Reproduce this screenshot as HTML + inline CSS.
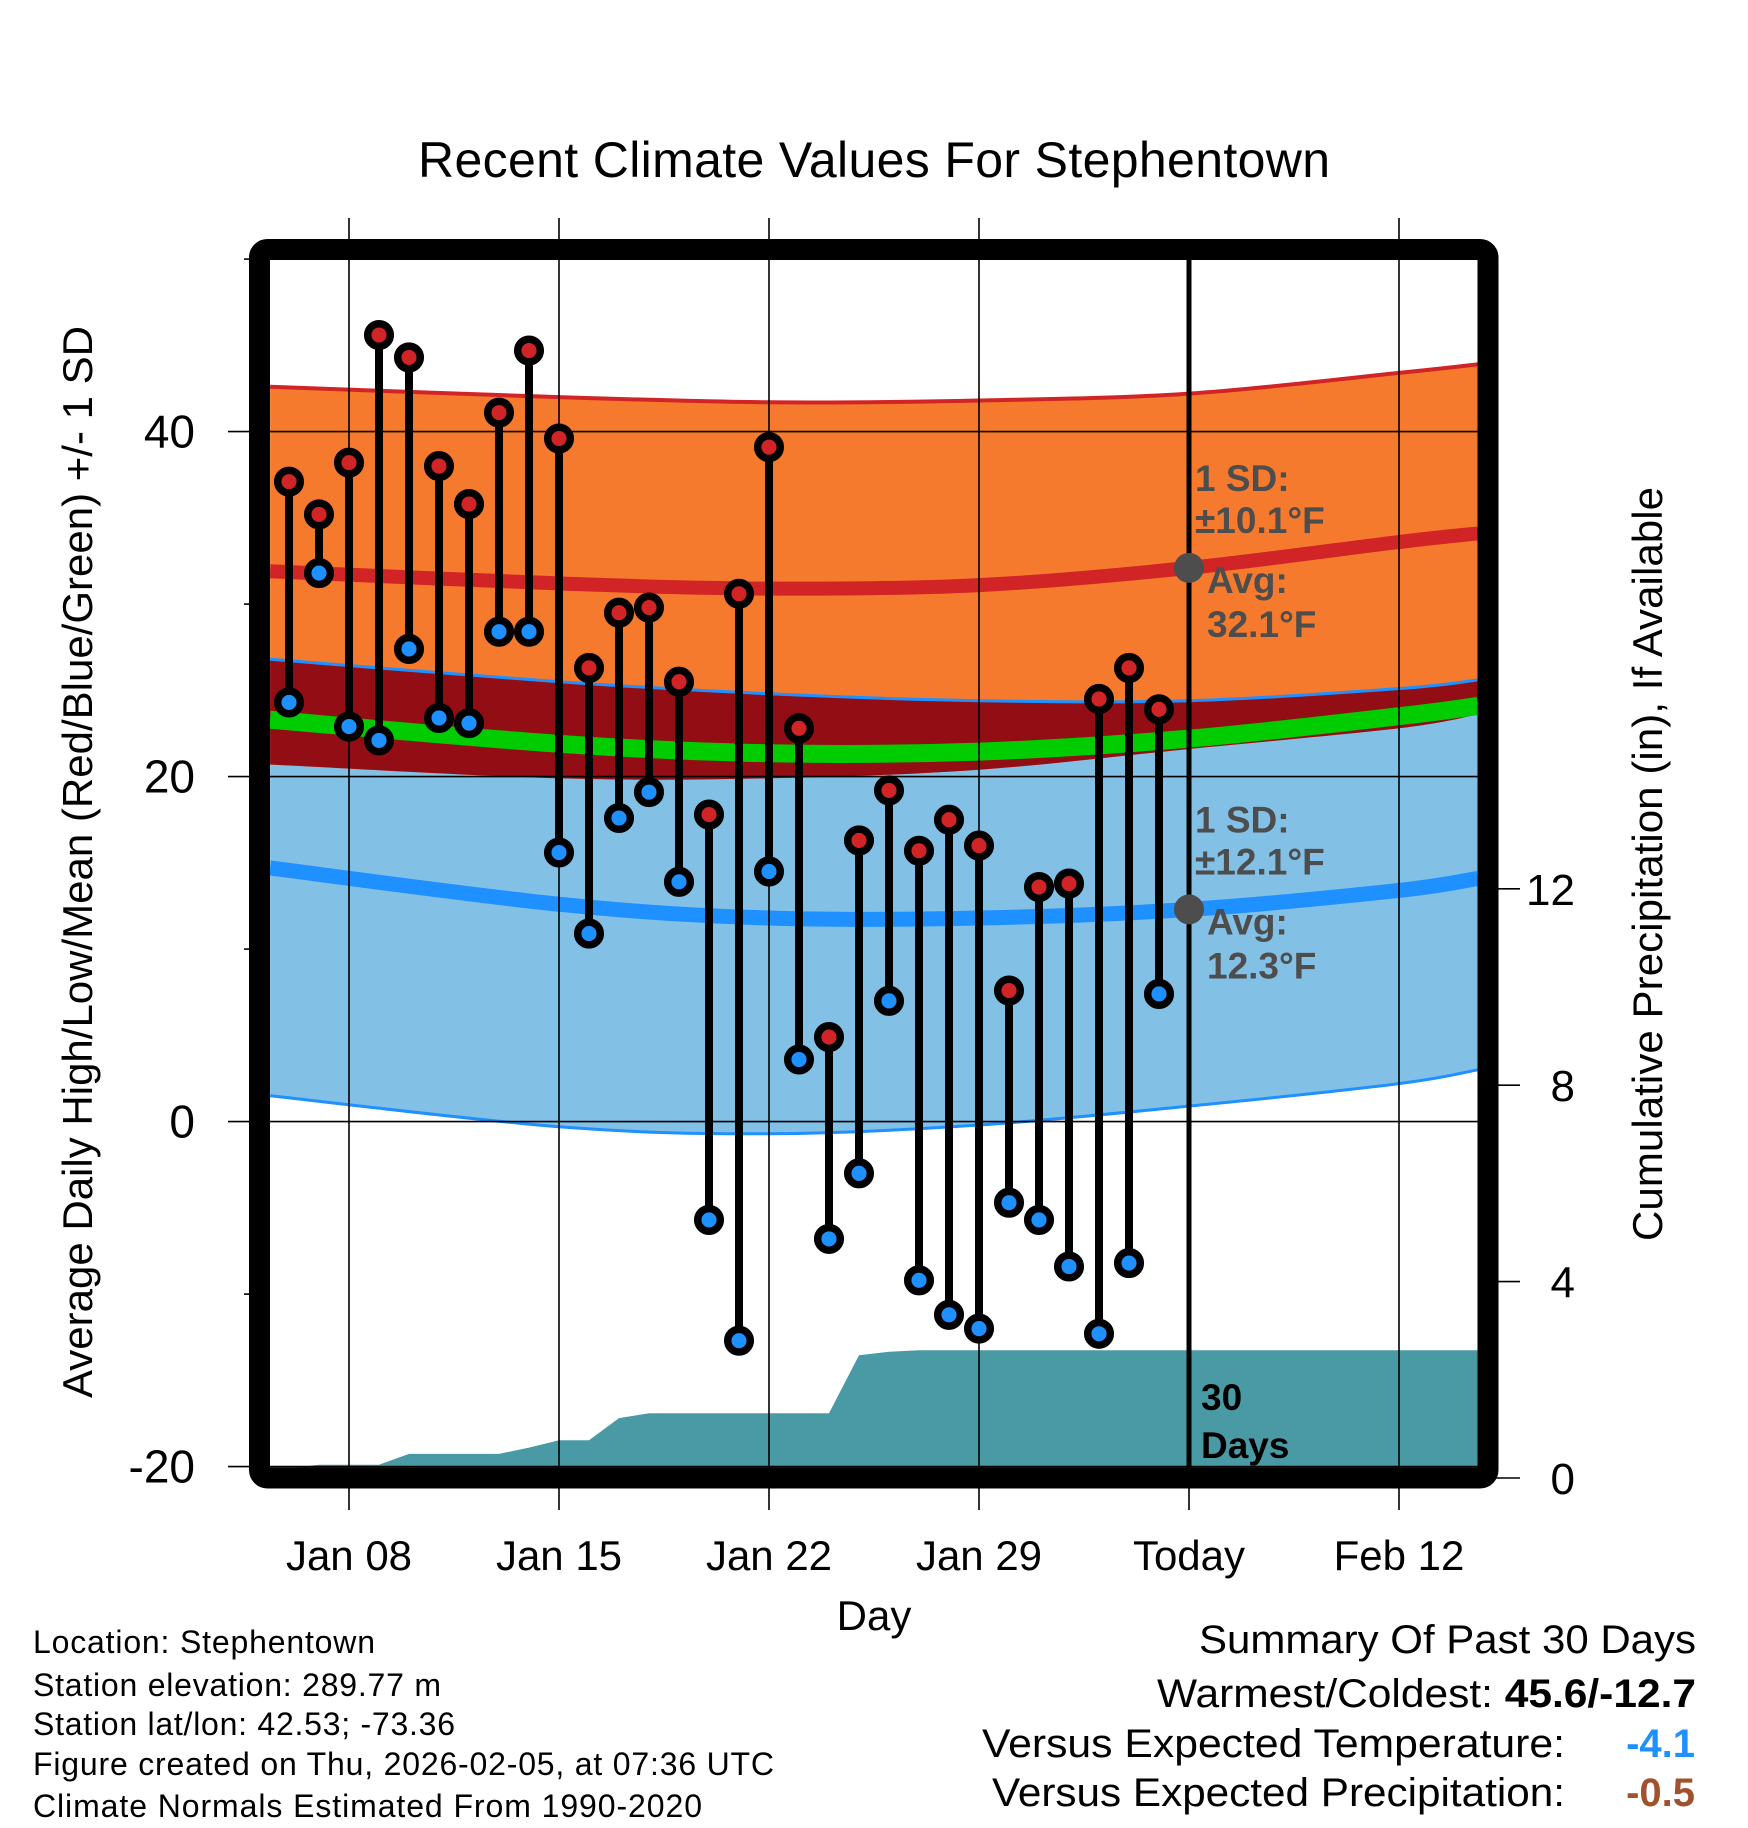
<!DOCTYPE html>
<html><head><meta charset="utf-8">
<style>
html,body{margin:0;padding:0;background:#fff;}
svg{display:block;font-family:"Liberation Sans",Arial,sans-serif;}
</style></head>
<body>
<svg id="chart" width="1748" height="1828" viewBox="0 0 1748 1828" xmlns="http://www.w3.org/2000/svg">
  <defs><clipPath id="plotclip"><rect x="270" y="260" width="1208" height="1208"/></clipPath></defs>
  <rect x="0" y="0" width="1748" height="1828" fill="#fff"/>
  <text x="874" y="177" text-anchor="middle" font-size="50" textLength="912">Recent Climate Values For Stephentown</text>
  <g id="plot" clip-path="url(#plotclip)"></g>
  <g id="axes"></g>
  <rect x="259.5" y="249.5" width="1228.5" height="1228.5" rx="8" fill="none" stroke="#000" stroke-width="21"/>
  <g id="overlay"></g>
  <text transform="translate(92,862) rotate(-90)" text-anchor="middle" font-size="42" textLength="1072">Average Daily High/Low/Mean (Red/Blue/Green) +/- 1 SD</text>
  <text transform="translate(1662,864) rotate(-90)" text-anchor="middle" font-size="42" textLength="754">Cumulative Precipitation (in), If Available</text>
  <text x="874" y="1630" text-anchor="middle" font-size="42">Day</text>
  <g font-size="32">
    <text x="33" y="1653" textLength="342">Location: Stephentown</text>
    <text x="33" y="1696" textLength="408">Station elevation: 289.77 m</text>
    <text x="33" y="1735" textLength="422">Station lat/lon: 42.53; -73.36</text>
    <text x="33" y="1775" textLength="741">Figure created on Thu, 2026-02-05, at 07:36 UTC</text>
    <text x="33" y="1817" textLength="669">Climate Normals Estimated From 1990-2020</text>
  </g>
  <g font-size="40">
    <text x="1199" y="1653" textLength="497" lengthAdjust="spacingAndGlyphs">Summary Of Past 30 Days</text>
    <text x="1157" y="1707" textLength="539" lengthAdjust="spacingAndGlyphs">Warmest/Coldest: <tspan font-weight="bold">45.6/-12.7</tspan></text>
    <text x="982" y="1757" textLength="583" lengthAdjust="spacingAndGlyphs">Versus Expected Temperature:</text>
    <text x="1695" y="1757" text-anchor="end" font-weight="bold" fill="#1e90ff">-4.1</text>
    <text x="992" y="1806" textLength="573" lengthAdjust="spacingAndGlyphs">Versus Expected Precipitation:</text>
    <text x="1695" y="1806" text-anchor="end" font-weight="bold" fill="#a0522d">-0.5</text>
  </g>
</svg>
<script>
// ---- data ----
const dayLabels = ["Jan 06","Jan 07","Jan 08","Jan 09","Jan 10","Jan 11","Jan 12","Jan 13","Jan 14","Jan 15","Jan 16","Jan 17","Jan 18","Jan 19","Jan 20","Jan 21","Jan 22","Jan 23","Jan 24","Jan 25","Jan 26","Jan 27","Jan 28","Jan 29","Jan 30","Jan 31","Feb 01","Feb 02","Feb 03","Feb 04"];
const highs = [37.1,35.2,38.2,45.6,44.3,38.0,35.8,41.1,44.7,39.6,26.3,29.5,29.8,25.5,17.8,30.6,39.1,22.8,4.9,16.3,19.2,15.7,17.5,16.0,7.6,13.6,13.8,24.5,26.3,23.9];
const lows = [24.3,31.8,22.9,22.1,27.4,23.4,23.1,28.4,28.4,15.6,10.9,17.6,19.1,13.9,-5.7,-12.7,14.5,3.6,-6.8,-3.0,7.0,-9.2,-11.2,-12.0,-4.7,-5.7,-8.4,-12.3,-8.2,7.4];
const precipCum = [0.2,0.27,0.27,0.27,0.49,0.49,0.49,0.49,0.62,0.77,0.77,1.22,1.32,1.32,1.32,1.32,1.32,1.32,1.32,2.5,2.57,2.6,2.6,2.6,2.6,2.6,2.6,2.6,2.6,2.6];
// normals sampled at day offsets (0 = Jan 06)
const normDays = [-0.63,9,16,23,30,37,39.63];
const highUpper = [42.6,42.0,41.7,41.8,42.2,43.4,43.9];
const highAvg = [31.9,31.2,30.9,31.1,32.1,33.6,34.1];
const highLower = [20.7,19.9,19.9,20.4,21.6,22.8,23.6];
const lowUpper = [26.8,25.5,24.8,24.4,24.4,25.1,25.6];
const lowAvg = [14.7,12.6,11.8,11.8,12.3,13.4,14.1];
const lowLower = [1.5,-0.3,-0.7,-0.2,0.9,2.2,3.0];
const xTickDays = [2,9,16,23,30,37];
const xTickLabels = ["Jan 08","Jan 15","Jan 22","Jan 29","Today","Feb 12"];
const yTicks = [-20,0,20,40];
const yMinor = [-10,10,30,50];
const y2Ticks = [0,4,8,12];
const todayDay = 30;
const todayHighAvg = 32.1, todayHighSD = 10.1, todayLowAvg = 12.3, todayLowSD = 12.1;

// ---- scales ----
const X = d => 289 + 30*d;
const Y = t => 1121.6 - 17.25*t;
const Y2 = p => 1478 - 49.1*p;
const NS = "http://www.w3.org/2000/svg";
function mk(tag, attrs, parent){const e=document.createElementNS(NS,tag);for(const k in attrs)e.setAttribute(k,attrs[k]);parent.appendChild(e);return e;}
function smooth(xs, ys){
  let d="M"+xs[0].toFixed(1)+","+ys[0].toFixed(1);
  for(let i=0;i<xs.length-1;i++){
    const x0=xs[Math.max(i-1,0)],y0=ys[Math.max(i-1,0)],x1=xs[i],y1=ys[i],x2=xs[i+1],y2=ys[i+1],x3=xs[Math.min(i+2,xs.length-1)],y3=ys[Math.min(i+2,xs.length-1)];
    d+=" C"+(x1+(x2-x0)/6).toFixed(1)+","+(y1+(y2-y0)/6).toFixed(1)+" "+(x2-(x3-x1)/6).toFixed(1)+","+(y2-(y3-y1)/6).toFixed(1)+" "+x2.toFixed(1)+","+y2.toFixed(1);
  }
  return d;
}
function bandPath(up, lo){
  const xs=normDays.map(X);
  const top=smooth(xs, up.map(Y));
  const rxs=xs.slice().reverse(), rlo=lo.map(Y).reverse();
  return top+" L"+smooth(rxs, rlo).slice(1)+" Z";
}
const plot=document.getElementById('plot');
const axes=document.getElementById('axes');
const overlay=document.getElementById('overlay');
const xs=normDays.map(X);

let e;
e=mk('path',{d:bandPath(lowUpper,lowLower),fill:'#82c0e6'},plot);


e=mk('path',{d:bandPath(highUpper,highLower),fill:'#f57a2e'},plot);


e=mk('path',{d:bandPath(lowUpper,highLower),fill:'#920d14'},plot);


const meanAvg=highAvg.map((h,i)=>(h+lowAvg[i])/2);
e=mk('path',{d:smooth(xs,meanAvg.map(Y)),fill:'none',stroke:'#00cc00','stroke-width':18},plot);


e=mk('path',{d:smooth(xs,highUpper.map(Y)),fill:'none',stroke:'#d02426','stroke-width':4},plot);


e=mk('path',{d:smooth(xs,lowUpper.map(Y)),fill:'none',stroke:'#1e90ff','stroke-width':3},plot);


e=mk('path',{d:smooth(xs,lowLower.map(Y)),fill:'none',stroke:'#1e90ff','stroke-width':3},plot);


e=mk('path',{d:smooth(xs,highAvg.map(Y)),fill:'none',stroke:'#d02426','stroke-width':14},plot);


e=mk('path',{d:smooth(xs,lowAvg.map(Y)),fill:'none',stroke:'#1e90ff','stroke-width':15},plot);



// precipitation area
let pd="M270,1470 L270,"+Y2(precipCum[0]).toFixed(1);
precipCum.forEach((p,i)=>{pd+=" L"+X(i)+","+Y2(p).toFixed(1);});
pd+=" L1480,"+Y2(precipCum[precipCum.length-1]).toFixed(1)+" L1480,1470 Z";
e=mk('path',{d:pd,fill:'#4a9aa5'},plot);



// gridlines
xTickDays.forEach((d,i)=>{
  if(d===todayDay) return;
  const g=mk('line',{x1:X(d),x2:X(d),y1:218,y2:1510,stroke:'#000','stroke-width':1.6},axes);
  
  
});
mk('line',{x1:X(todayDay),x2:X(todayDay),y1:1488,y2:1510,stroke:'#000','stroke-width':1.6},axes);
yTicks.forEach(t=>{
  const g=mk('line',{x1:228,x2:1478,y1:Y(t),y2:Y(t),stroke:'#000','stroke-width':1.6},axes);
  
  
  const l=mk('text',{x:195,y:Y(t)+16,'text-anchor':'end','font-size':46},axes);
  l.textContent=String(t);
  
  
});
yMinor.forEach(t=>{
  const g=mk('line',{x1:244,x2:252,y1:Y(t),y2:Y(t),stroke:'#000','stroke-width':1.6},axes);
  
  
});
y2Ticks.forEach(p=>{
  const g=mk('line',{x1:1496,x2:1520,y1:Y2(p),y2:Y2(p),stroke:'#000','stroke-width':1.6},axes);
  
  
  const l=mk('text',{x:1575,y:Y2(p)+16,'text-anchor':'end','font-size':44},axes);
  l.textContent=String(p);
  
  
});
xTickDays.forEach((d,i)=>{
  const l=mk('text',{x:X(d),y:1570,'text-anchor':'middle','font-size':42},axes);
  l.textContent=xTickLabels[i];
  
  
});

// today line & annotations
e=mk('line',{x1:X(todayDay),x2:X(todayDay),y1:260,y2:1470,stroke:'#000','stroke-width':5},overlay);


[[todayHighAvg,todayHighSD,'high'],[todayLowAvg,todayLowSD,'low']].forEach(([a,sd,nm])=>{
  const cy=Y(a);
  const c=mk('circle',{cx:X(todayDay),cy:cy,r:15,fill:'#4d4d4d'},overlay);
  
  
  const lines=[["1 SD:",1195,cy-77],["±"+sd.toFixed(1)+"°F",1195,cy-35],["Avg:",1207,cy+25],[a.toFixed(1)+"°F",1207,cy+69]];
  lines.forEach(([t,x,y])=>{
    const l=mk('text',{x:x,y:y,'font-size':37,'font-weight':'bold',fill:'#4d4d4d'},overlay);
    l.textContent=t;
    
    
  });
});
e=mk('text',{x:1201,y:1410,'font-size':37,'font-weight':'bold'},overlay);
e.textContent="30";


e=mk('text',{x:1201,y:1458,'font-size':37,'font-weight':'bold'},overlay);
e.textContent="Days";



// daily observations
highs.forEach((h,i)=>{
  const x=X(i);
  const s=mk('line',{x1:x,x2:x,y1:Y(h),y2:Y(lows[i]),stroke:'#000','stroke-width':8},overlay);
  
  
  const ch=mk('circle',{cx:x,cy:Y(h),r:11.3,fill:'#d02426',stroke:'#000','stroke-width':7.5},overlay);
  
  
  const cl=mk('circle',{cx:x,cy:Y(lows[i]),r:11.3,fill:'#1e90ff',stroke:'#000','stroke-width':7.5},overlay);
  
  
});
</script>
</body></html>
